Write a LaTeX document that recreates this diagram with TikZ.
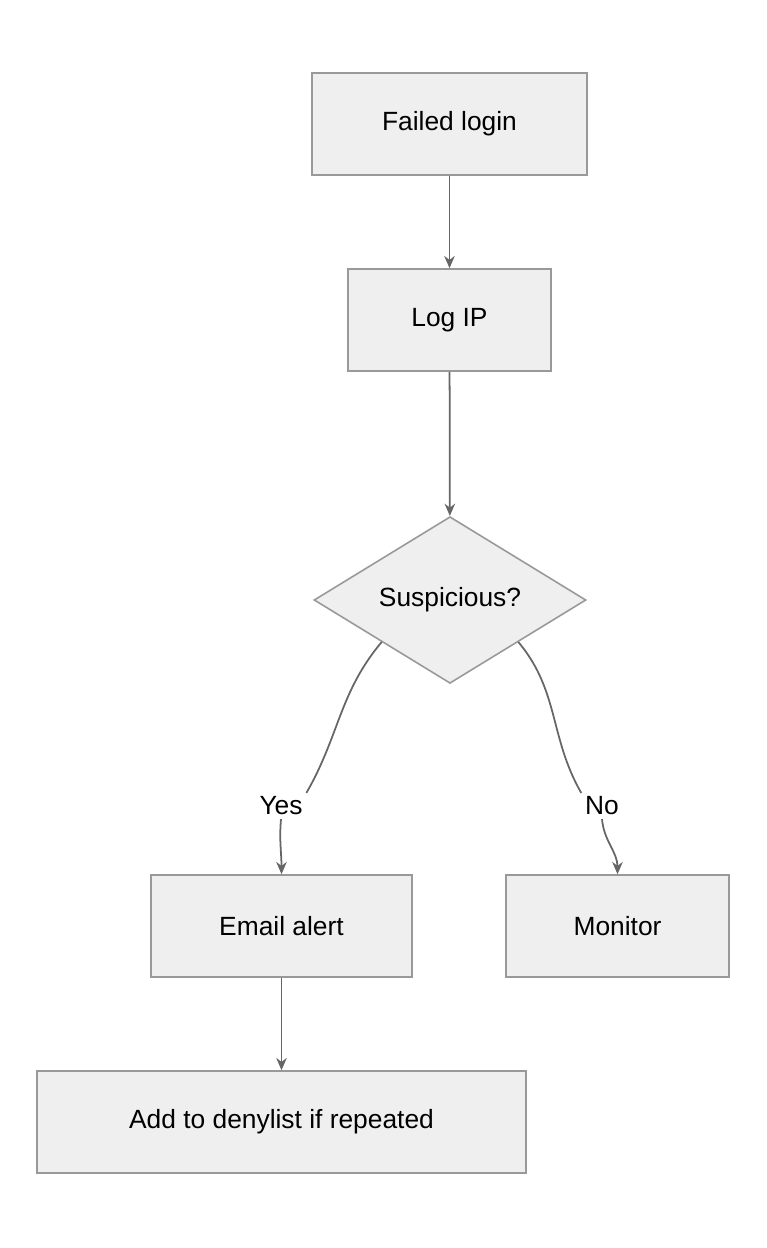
\documentclass[tikz,border=0pt]{standalone}
\usepackage{fontspec}
\setmainfont{Liberation Sans}
\usepackage{tikz}
\usetikzlibrary{shapes.geometric, arrows.meta}
\definecolor{boxfill}{HTML}{EFEFEF}
\definecolor{boxdraw}{HTML}{999999}
\definecolor{linecol}{HTML}{666666}
\tikzset{
  flowstep/.style={draw=boxdraw, fill=boxfill, line width=0.9pt, minimum height=2.04cm, font=\fontsize{15}{18}\selectfont},
  choice/.style={draw=boxdraw, fill=boxfill, line width=0.9pt, diamond, aspect=1, inner sep=0pt, minimum width=5.44cm, font=\fontsize{15}{18}\selectfont},
  tag/.style={fill=white, inner sep=2pt, font=\fontsize{15}{18}\selectfont},
  flow/.style={draw=linecol, line width=1pt, -{Stealth[length=7pt, width=6pt]}}
}
\begin{document}
\begin{tikzpicture}
  \useasboundingbox (0,0) rectangle (15.32,-24.96);
  % boxes
  \node[flowstep, minimum width=5.5cm] (failed) at (8.99,-2.48) {Failed login};
  \node[flowstep, minimum width=4.06cm] (logip) at (8.99,-6.40) {Log IP};
  \node[choice] (susp) at (9.0,-12.0) {Suspicious?};
  \node[tag] (yes) at (5.62,-16.12) {Yes};
  \node[tag] (no) at (12.04,-16.12) {No};
  \node[flowstep, minimum width=5.22cm] (email) at (5.63,-18.52) {Email alert};
  \node[flowstep, minimum width=4.46cm] (monitor) at (12.35,-18.52) {Monitor};
  \node[flowstep, minimum width=9.78cm] (deny) at (5.63,-22.44) {Add to denylist if repeated};
  % connectors
  \draw[flow] (failed) -- (logip);
  \draw[flow] (logip) -- (susp);
  \draw[draw=linecol, line width=1pt] (susp.south west) to[out=-130, in=60] (yes.north east);
  \draw[draw=linecol, line width=1pt] (susp.south east) to[out=-50, in=120] (no.north west);
  \draw[flow] (yes.south) to[out=-95, in=90] (email.north);
  \draw[flow] (no.south) to[out=-85, in=90] (monitor.north);
  \draw[flow] (email) -- (deny);
\end{tikzpicture}
\end{document}
